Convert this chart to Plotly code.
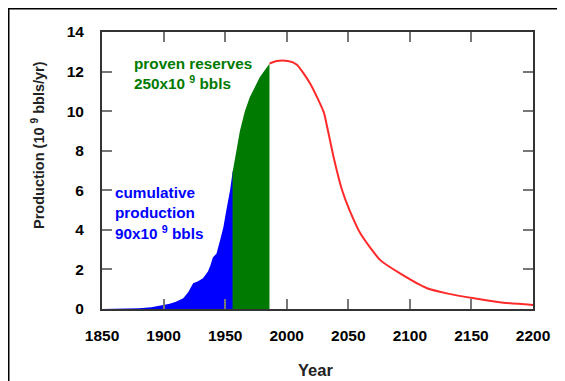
import plotly.graph_objects as go

# Historical (cumulative production) – blue (ends under the start of the green area)
years_hist = [1850, 1860, 1870, 1880, 1890, 1900, 1905, 1910, 1916, 1920, 1924, 1928, 1932, 1936, 1938, 1940, 1943, 1946, 1948.6, 1951, 1954, 1956, 1956.6]
prod_hist = [0.0, 0.01, 0.02, 0.04, 0.09, 0.2, 0.27, 0.37, 0.54, 0.85, 1.3, 1.4, 1.55, 1.9, 2.2, 2.6, 2.8, 3.5, 4.15, 5.0, 6.0, 6.9, 7.05]

# Proven reserves – green
years_res = [1956, 1958, 1960, 1962, 1966, 1970, 1974, 1978, 1982, 1986]
prod_res = [6.9, 7.6, 8.4, 9.0, 10.0, 10.7, 11.2, 11.7, 12.05, 12.4]

# Projected production – red
years_fut = [1986, 1992, 2001, 2008, 2019, 2030, 2032.5, 2038, 2045, 2051, 2060, 2076, 2092, 2114, 2130, 2152, 2176, 2200]
prod_fut = [12.4, 12.53, 12.53, 12.36, 11.4, 9.96, 9.3, 7.7, 6.0, 5.0, 3.8, 2.47, 1.8, 1.05, 0.79, 0.54, 0.32, 0.2]

x_ticks = [1850, 1900, 1950, 2000, 2050, 2100, 2150, 2200]
y_ticks = [0, 2, 4, 6, 8, 10, 12, 14]

FONT = "Liberation Sans, Arial, sans-serif"

# page has an 8px body margin; work in page pixels and convert
OFF = 8
W, H = 565 - OFF, 381 - OFF
L, R, T, B = 102 - OFF, 533 - OFF, 32 - OFF, 309 - OFF


def px(xp):
    return (xp - OFF - L) / (R - L)


def py(yp):
    return (B - (yp - OFF)) / (B - T)


fig = go.Figure()
fig.add_trace(go.Scatter(x=years_hist, y=prod_hist, mode="lines", fill="tozeroy",
                         line=dict(color="#0000FF", width=0), fillcolor="#0000FF",
                         showlegend=False, hoverinfo="skip"))
fig.add_trace(go.Scatter(x=years_res, y=prod_res, mode="lines", fill="tozeroy",
                         line=dict(color="#007A00", width=0), fillcolor="#007A00",
                         showlegend=False, hoverinfo="skip"))
fig.add_trace(go.Scatter(x=years_fut, y=prod_fut, mode="lines",
                         line=dict(color="#FF2A2A", width=2, shape="spline", smoothing=0.6),
                         showlegend=False, hoverinfo="skip"))

axis_common = dict(showgrid=False, zeroline=False, showline=True, linecolor="#333333",
                   linewidth=2, mirror="ticks", ticks="inside", ticklen=10, tickwidth=2,
                   tickcolor="#777777",
                   tickfont=dict(family=FONT, size=15.5, color="black", weight="bold"))

fig.update_xaxes(range=[1850, 2200], tickvals=x_ticks, ticktext=[str(v) for v in x_ticks],
                 ticklabelstandoff=11, **axis_common)
fig.update_yaxes(range=[0, 14], tickvals=y_ticks, ticktext=[str(v) for v in y_ticks],
                 ticklabelstandoff=13, **axis_common)

anns = [
    dict(text="proven reserves", x=132, y=63, color="#007A00"),
    dict(text="250x10 <sup>9</sup> bbls", x=132, y=82, color="#007A00"),
    dict(text="cumulative", x=113, y=192, color="#0000FF"),
    dict(text="production", x=113, y=212, color="#0000FF"),
    dict(text="90x10 <sup>9</sup> bbls", x=113, y=232, color="#0000FF"),
]
for a in anns:
    fig.add_annotation(text=a["text"], xref="paper", yref="paper",
                       x=px(a["x"]), y=py(a["y"]),
                       xanchor="left", yanchor="middle", showarrow=False,
                       font=dict(family=FONT, size=15.3, color=a["color"], weight="bold"))

fig.add_annotation(text="Production (10 <sup>9</sup> bbls/yr)", xref="paper", yref="paper",
                   x=px(38), y=py(145), textangle=-90,
                   xanchor="center", yanchor="middle", showarrow=False,
                   font=dict(family=FONT, size=14.5, color="#222222", weight="bold"))
fig.add_annotation(text="Year", xref="paper", yref="paper",
                   x=px(315), y=py(370),
                   xanchor="center", yanchor="middle", showarrow=False,
                   font=dict(family=FONT, size=16.5, color="#222222", weight="bold"))

# outer frame
fig.add_shape(type="line", xref="paper", yref="paper",
              x0=px(7), x1=px(570), y0=py(8.5), y1=py(8.5),
              line=dict(color="black", width=2))
fig.add_shape(type="line", xref="paper", yref="paper",
              x0=px(8.5), x1=px(8.5), y0=py(8), y1=py(390),
              line=dict(color="black", width=2))

fig.update_layout(width=W, height=H, margin=dict(l=L, r=W - R, t=T, b=H - B),
                  paper_bgcolor="white", plot_bgcolor="white")

fig.write_html("out.html")
